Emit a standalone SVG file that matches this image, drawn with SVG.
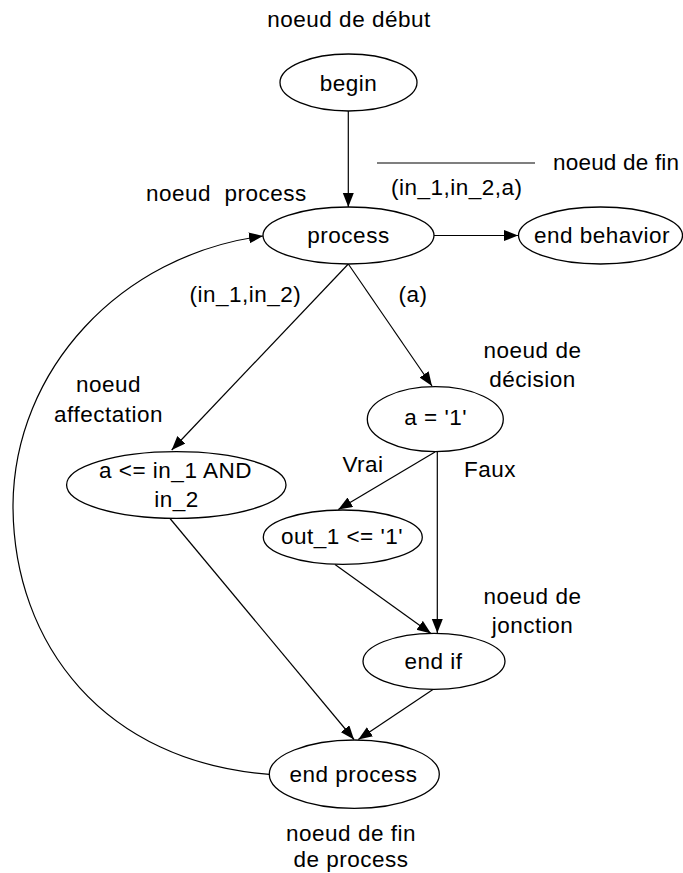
<svg xmlns="http://www.w3.org/2000/svg" width="683" height="873" viewBox="0 0 683 873">
<style>
text{font-family:"Liberation Sans",Arial,sans-serif;font-size:22.5px;letter-spacing:0.5px;fill:#000}
.c{text-anchor:middle}
.n ellipse{fill:#fff;stroke:#000;stroke-width:1.3}
.e path,.e line{fill:none;stroke:#000;stroke-width:1.2}
</style>
<defs>
<marker id="ah" markerUnits="userSpaceOnUse" markerWidth="15" markerHeight="12" refX="14" refY="5.5" orient="auto">
<path d="M0,0 L14,5.5 L0,11 z" fill="#000"/>
</marker>
</defs>
<g id="annotations">
<text class="c" x="349" y="27">noeud de début</text>
<line x1="377" y1="163" x2="535" y2="163" stroke="#000" stroke-width="1.2"/>
<text x="553" y="170" style="letter-spacing:0.2px">noeud de fin</text>
<text x="146" y="201" style="white-space:pre">noeud  process</text>
<text class="c" x="532.5" y="358">noeud de</text>
<text class="c" x="532.5" y="386.5">décision</text>
<text class="c" x="108.5" y="391.5">noeud</text>
<text class="c" x="108.5" y="421.5">affectation</text>
<text class="c" x="532.5" y="604">noeud de</text>
<text class="c" x="532.5" y="633">jonction</text>
<text class="c" x="351" y="840.5">noeud de fin</text>
<text class="c" x="351" y="866.5">de process</text>
</g>
<g id="connectors" class="e">
<line x1="348.3" y1="111" x2="348.3" y2="207" marker-end="url(#ah)"/>
<line x1="434" y1="235.5" x2="518" y2="235.5" marker-end="url(#ah)"/>
<line x1="348.3" y1="264" x2="171.7" y2="450" marker-end="url(#ah)"/>
<line x1="348.3" y1="264" x2="432" y2="386" marker-end="url(#ah)"/>
<line x1="435" y1="452" x2="338.3" y2="509.5" marker-end="url(#ah)"/>
<line x1="437.3" y1="452" x2="437.3" y2="633" marker-end="url(#ah)"/>
<line x1="335" y1="564.5" x2="431" y2="633.5" marker-end="url(#ah)"/>
<line x1="170" y1="518.5" x2="354" y2="739.5" marker-end="url(#ah)"/>
<line x1="433.3" y1="689.3" x2="358.3" y2="739.5" marker-end="url(#ah)"/>
<path d="M269.3,774.3 C105,762 13,645 13,505 C14,370 120,255 263,236" marker-end="url(#ah)"/>
<text x="391" y="195">(in_1,in_2,a)</text>
<text x="189.5" y="301.5">(in_1,in_2)</text>
<text x="398.5" y="301.5">(a)</text>
<text class="c" x="363" y="471.5">Vrai</text>
<text class="c" x="490" y="477.3">Faux</text>
</g>
<g id="begin" class="n">
<ellipse cx="348.5" cy="82.5" rx="68.5" ry="28.5"/>
<text class="c" x="348.5" y="90.5">begin</text>
</g>
<g id="process" class="n">
<ellipse cx="348.5" cy="235.5" rx="85.5" ry="28.5"/>
<text class="c" x="348.5" y="243">process</text>
</g>
<g id="end_behavior" class="n">
<ellipse cx="600.5" cy="235.5" rx="82" ry="28.5"/>
<text class="c" x="602" y="243">end behavior</text>
</g>
<g id="decision" class="n">
<ellipse cx="435.3" cy="419.2" rx="68" ry="32.5"/>
<text class="c" x="435.7" y="425">a = '1'</text>
</g>
<g id="affectation" class="n">
<ellipse cx="176.3" cy="485" rx="109.7" ry="33.3"/>
<text class="c" x="175.5" y="478.3">a &lt;= in_1 AND</text>
<text class="c" x="176.5" y="506.7">in_2</text>
</g>
<g id="out_1" class="n">
<ellipse cx="342.8" cy="537.2" rx="79.5" ry="27.2"/>
<text class="c" x="342" y="544">out_1 &lt;= '1'</text>
</g>
<g id="end_if" class="n">
<ellipse cx="434" cy="661.3" rx="71" ry="28"/>
<text class="c" x="433.5" y="668.5">end if</text>
</g>
<g id="end_process" class="n">
<ellipse cx="354.3" cy="774.2" rx="85" ry="34.2"/>
<text class="c" x="353.5" y="781.7">end process</text>
</g>
</svg>
